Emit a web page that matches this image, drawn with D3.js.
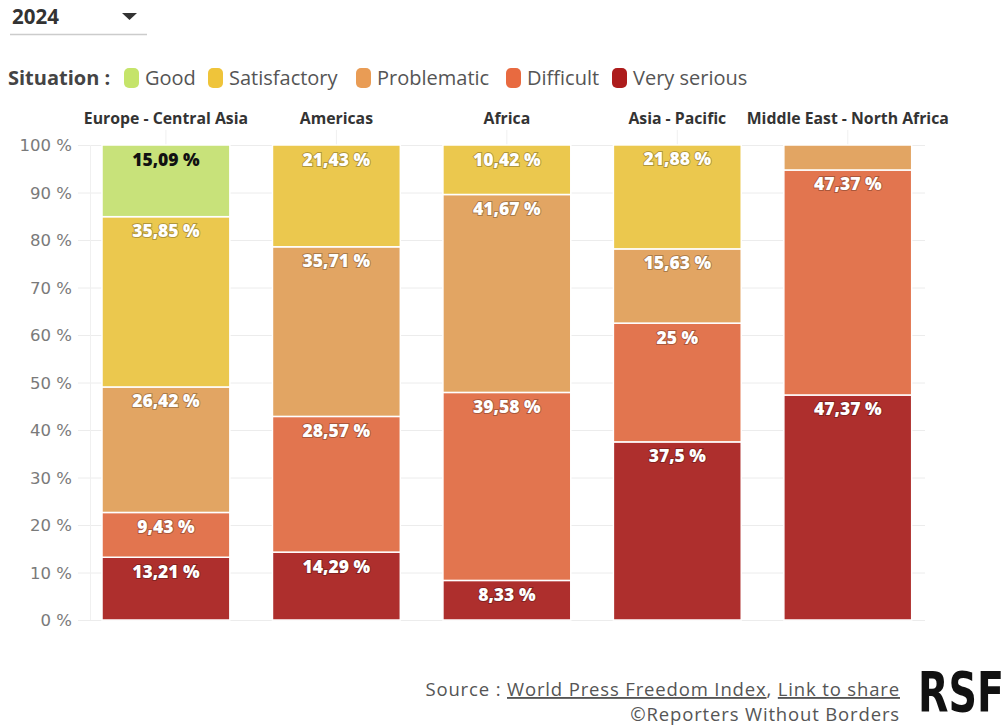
<!DOCTYPE html>
<html><head><meta charset="utf-8">
<script src="https://cdn.jsdelivr.net/npm/d3@7"></script>
<style>
body{margin:0;background:#fff;}
svg{display:block;font-family:"Open Sans","Noto Sans",sans-serif;}
</style></head>
<body>
<svg id="chart" width="1006" height="726"></svg>
<script>
const regions = ["Europe - Central Asia","Americas","Africa","Asia - Pacific","Middle East - North Africa"];
const situations = ["Very serious","Difficult","Problematic","Satisfactory","Good"];
const legendOrder = ["Good","Satisfactory","Problematic","Difficult","Very serious"];
const verySerious = [13.21,14.29,8.33,37.5,47.37];
const difficult = [9.43,28.57,39.58,25,47.37];
const problematic = [26.42,35.71,41.67,15.63,5.26];
const satisfactory = [35.85,21.43,10.42,21.88,0];
const good = [15.09,0,0,0,0];
const yTicks = [0,10,20,30,40,50,60,70,80,90,100];
const colors = {"Good":"#c8e27a","Satisfactory":"#ebc84e","Problematic":"#e2a563","Difficult":"#e2754f","Very serious":"#ae2f2d"};
const legendColors = {"Good":"#c5e46a","Satisfactory":"#efc43a","Problematic":"#e99c55","Difficult":"#e86a40","Very serious":"#ad1c1c"};

const series = {"Very serious":verySerious,"Difficult":difficult,"Problematic":problematic,"Satisfactory":satisfactory,"Good":good};
const table = regions.map((r,i)=>{const o={region:r}; situations.forEach(s=>o[s]=series[s][i]); return o;});
const stack = d3.stack().keys(situations)(table);

const svg = d3.select("#chart");
const x = d3.scaleBand().domain(regions).range([80.7,933]).paddingInner(0.25).paddingOuter(0.125);
const y = d3.scaleLinear().domain([0,100]).range([620,145]);

// dropdown
svg.append("text").attr("x",12).attr("y",24).attr("font-size",20.5).attr("font-weight",700).attr("fill","#333").text("2024");
svg.append("path").attr("d","M122,13 L137,13 L129.5,20 Z").attr("fill","#333");
svg.append("line").attr("x1",10).attr("x2",147).attr("y1",34.5).attr("y2",34.5).attr("stroke","#ccc").attr("stroke-width",1.5);

// legend
const lg = svg.append("g").attr("font-size",20);
lg.append("text").attr("x",8).attr("y",85).attr("font-weight",700).attr("fill","#444").text("Situation :");
const legX = [124,208,356,506,612];
legendOrder.forEach((k,i)=>{
  lg.append("rect").attr("x",legX[i]).attr("y",68).attr("width",15).attr("height",20).attr("rx",5).attr("fill",legendColors[k]);
  lg.append("text").attr("x",legX[i]+21).attr("y",85).attr("fill","#555").text(k);
});

// gridlines
svg.append("g").selectAll("line").data(yTicks).join("line")
  .attr("x1",78).attr("x2",925).attr("y1",d=>y(d)+0.5).attr("y2",d=>y(d)+0.5)
  .attr("stroke","#ececec").attr("stroke-width",1);
svg.append("line").attr("x1",90.5).attr("x2",90.5).attr("y1",y(100)).attr("y2",y(0)).attr("stroke","#f0f0f0");
svg.append("g").selectAll("line").data(regions).join("line")
  .attr("x1",d=>x(d)+x.bandwidth()/2).attr("x2",d=>x(d)+x.bandwidth()/2)
  .attr("y1",130).attr("y2",620).attr("stroke","#f0f0f0");

// y axis
const yAxis = d3.axisLeft(y).tickValues(yTicks).tickFormat(d=>d+" %").tickSize(0).tickPadding(8);
const ya = svg.append("g").attr("transform","translate(80,0)").call(yAxis);
ya.select(".domain").remove();
ya.selectAll("text").attr("font-size",16.5).attr("fill","#7a7a7a").attr("font-family","DejaVu Sans, sans-serif").attr("dy","0.35em");

// headers
svg.append("g").selectAll("text").data(regions).join("text")
  .attr("x",d=>x(d)+x.bandwidth()/2).attr("y",124).attr("text-anchor","middle")
  .attr("font-size",15.8).attr("font-weight",700).attr("fill","#333").text(d=>d);

// bars
const layers = svg.append("g").selectAll("g").data(stack).join("g").attr("fill",d=>colors[d.key]);
layers.selectAll("rect").data(d=>d.filter(p=>p[1]-p[0]>0)).join("rect")
  .attr("x",d=>x(d.data.region)).attr("width",x.bandwidth())
  .attr("y",d=>y(d[1])).attr("height",d=>y(d[0])-y(d[1]))
  .attr("stroke","#fff").attr("stroke-width",1.5);

// labels
const labels = [];
stack.forEach(s=>s.forEach(p=>{ if(p[1]-p[0]>=8) labels.push({key:s.key,p}); }));
svg.append("g").selectAll("text").data(labels).join("text")
  .attr("x",d=>x(d.p.data.region)+x.bandwidth()/2)
  .attr("y",d=>y(d.p[1])+20.5).attr("text-anchor","middle")
  .attr("font-size",17.5).attr("font-weight",800)
  .attr("fill",d=>d.key==="Good"?"#111":"#fff")
  .attr("stroke",d=>d.key==="Good"?"none":"rgba(0,0,0,0.25)").attr("stroke-width",2).attr("paint-order","stroke")
  .text(d=>String(d.p.data[d.key]).replace(".",",")+" %");

// footer
const ft = svg.append("g").attr("font-size",18.5).attr("fill","#555").attr("text-anchor","end").attr("letter-spacing",0.85);
const src = ft.append("text").attr("x",900).attr("y",696);
src.append("tspan").text("Source : ");
src.append("tspan").attr("text-decoration","underline").text("World Press Freedom Index");
src.append("tspan").text(", ");
src.append("tspan").attr("text-decoration","underline").text("Link to share");
ft.append("text").attr("x",900).attr("y",721).text("©Reporters Without Borders");
svg.append("text").attr("x",1004).attr("y",711).attr("font-size",56).attr("font-weight",900)
  .attr("text-anchor","end")
  .attr("font-family","Liberation Sans Narrow, DejaVu Sans Condensed, sans-serif")
  .attr("fill","#111").attr("textLength",86).attr("lengthAdjust","spacingAndGlyphs").text("RSF");
</script>
</body></html>
